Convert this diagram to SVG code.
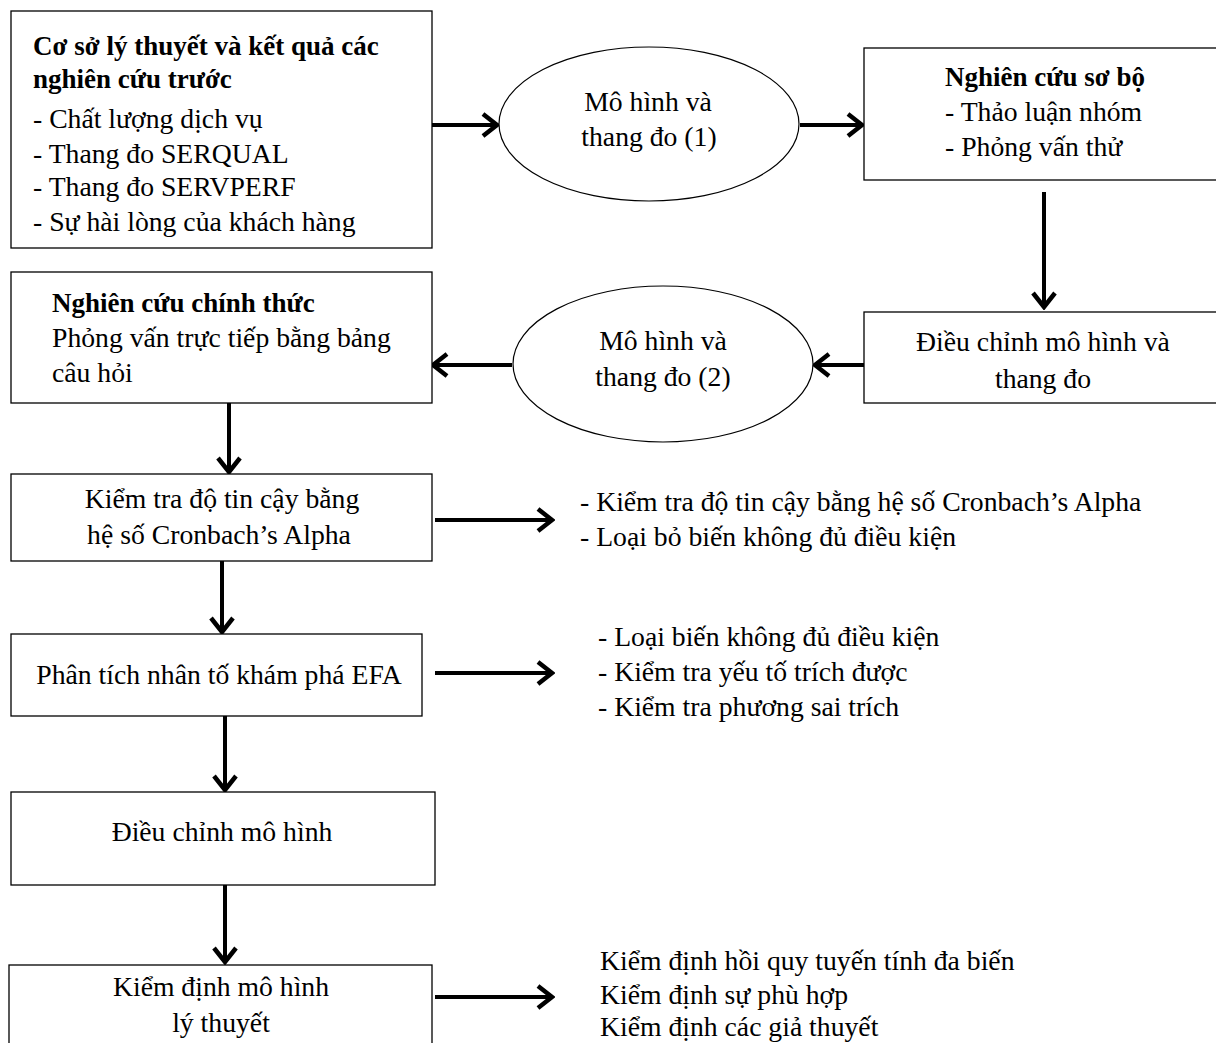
<svg xmlns="http://www.w3.org/2000/svg" width="1216" height="1043" viewBox="0 0 1216 1043">
<style>
.box{fill:#fff;stroke:#000;stroke-width:1.3}
.ell{fill:#fff;stroke:#000;stroke-width:1.2}
.t{font-family:"Liberation Serif","Times New Roman",serif;font-size:27.7px;fill:#000}
.b{font-weight:bold;font-size:27px}
.m{text-anchor:middle}
.c{stroke:#000;stroke-width:4;fill:none}
</style>
<defs>
<marker id="ah" markerUnits="userSpaceOnUse" markerWidth="20" markerHeight="28" viewBox="0 0 20 28" refX="17" refY="14" orient="auto">
<path d="M3,3 L17,14 L3,25" fill="none" stroke="#000" stroke-width="4.5" stroke-linejoin="miter"/>
</marker>
</defs>
<rect width="1216" height="1043" fill="#fff"/>
<g id="connectors">
<line class="c" x1="432" y1="125" x2="497" y2="125" marker-end="url(#ah)"/>
<line class="c" x1="800" y1="125" x2="862" y2="125" marker-end="url(#ah)"/>
<line class="c" x1="1044" y1="192" x2="1044" y2="307" marker-end="url(#ah)"/>
<line class="c" x1="864" y1="365" x2="815" y2="365" marker-end="url(#ah)"/>
<line class="c" x1="512" y1="365" x2="433" y2="365" marker-end="url(#ah)"/>
<line class="c" x1="229" y1="403" x2="229" y2="472" marker-end="url(#ah)"/>
<line class="c" x1="435" y1="520" x2="552" y2="520" marker-end="url(#ah)"/>
<line class="c" x1="222" y1="561" x2="222" y2="632" marker-end="url(#ah)"/>
<line class="c" x1="435" y1="673" x2="552" y2="673" marker-end="url(#ah)"/>
<line class="c" x1="225" y1="716" x2="225" y2="790" marker-end="url(#ah)"/>
<line class="c" x1="225" y1="885" x2="225" y2="962" marker-end="url(#ah)"/>
<line class="c" x1="435" y1="997" x2="552" y2="997" marker-end="url(#ah)"/>
</g>
<g id="n1">
<rect class="box" x="11" y="11" width="421" height="237"/>
<text class="t b" x="33" y="55">Cơ sở lý thuyết và kết quả các</text>
<text class="t b" x="33" y="88">nghiên cứu trước</text>
<text class="t" x="33" y="128">- Chất lượng dịch vụ</text>
<text class="t" x="33" y="163">- Thang đo SERQUAL</text>
<text class="t" x="33" y="196">- Thang đo SERVPERF</text>
<text class="t" x="33" y="231">- Sự hài lòng của khách hàng</text>
</g>
<g id="n2">
<ellipse class="ell" cx="649" cy="124" rx="150" ry="77"/>
<text class="t m" x="648" y="111">Mô hình và</text>
<text class="t m" x="649" y="146">thang đo (1)</text>
</g>
<g id="n3">
<rect class="box" x="864" y="48" width="360" height="132"/>
<text class="t b" x="945" y="86">Nghiên cứu sơ bộ</text>
<text class="t" x="945" y="121">- Thảo luận nhóm</text>
<text class="t" x="945" y="156">- Phỏng vấn thử</text>
</g>
<g id="n4">
<rect class="box" x="864" y="312" width="360" height="91"/>
<text class="t m" x="1043" y="351">Điều chỉnh mô hình và</text>
<text class="t m" x="1043" y="388">thang đo</text>
</g>
<g id="n5">
<ellipse class="ell" cx="663" cy="364" rx="150" ry="78"/>
<text class="t m" x="663" y="350">Mô hình và</text>
<text class="t m" x="663" y="386">thang đo (2)</text>
</g>
<g id="n6">
<rect class="box" x="11" y="272" width="421" height="131"/>
<text class="t b" x="52" y="312">Nghiên cứu chính thức</text>
<text class="t" x="52" y="347">Phỏng vấn trực tiếp bằng bảng</text>
<text class="t" x="52" y="382">câu hỏi</text>
</g>
<g id="n7">
<rect class="box" x="11" y="474" width="421" height="87"/>
<text class="t m" x="222" y="508">Kiểm tra độ tin cậy bằng</text>
<text class="t m" x="219" y="544">hệ số Cronbach’s Alpha</text>
</g>
<g id="n8">
<text class="t" x="580" y="511">- Kiểm tra độ tin cậy bằng hệ số Cronbach’s Alpha</text>
<text class="t" x="580" y="546">- Loại bỏ biến không đủ điều kiện</text>
</g>
<g id="n9">
<rect class="box" x="11" y="634" width="411" height="82"/>
<text class="t m" x="219" y="684">Phân tích nhân tố khám phá EFA</text>
</g>
<g id="n10">
<text class="t" x="598" y="646">- Loại biến không đủ điều kiện</text>
<text class="t" x="598" y="681">- Kiểm tra yếu tố trích được</text>
<text class="t" x="598" y="716">- Kiểm tra phương sai trích</text>
</g>
<g id="n11">
<rect class="box" x="11" y="792" width="424" height="93"/>
<text class="t m" x="222" y="841">Điều chỉnh mô hình</text>
</g>
<g id="n12">
<rect class="box" x="9" y="965" width="423" height="90"/>
<text class="t m" x="221" y="996">Kiểm định mô hình</text>
<text class="t m" x="221" y="1032">lý thuyết</text>
</g>
<g id="n13">
<text class="t" x="600" y="970">Kiểm định hồi quy tuyến tính đa biến</text>
<text class="t" x="600" y="1004">Kiểm định sự phù hợp</text>
<text class="t" x="600" y="1036">Kiểm định các giả thuyết</text>
</g>
</svg>
